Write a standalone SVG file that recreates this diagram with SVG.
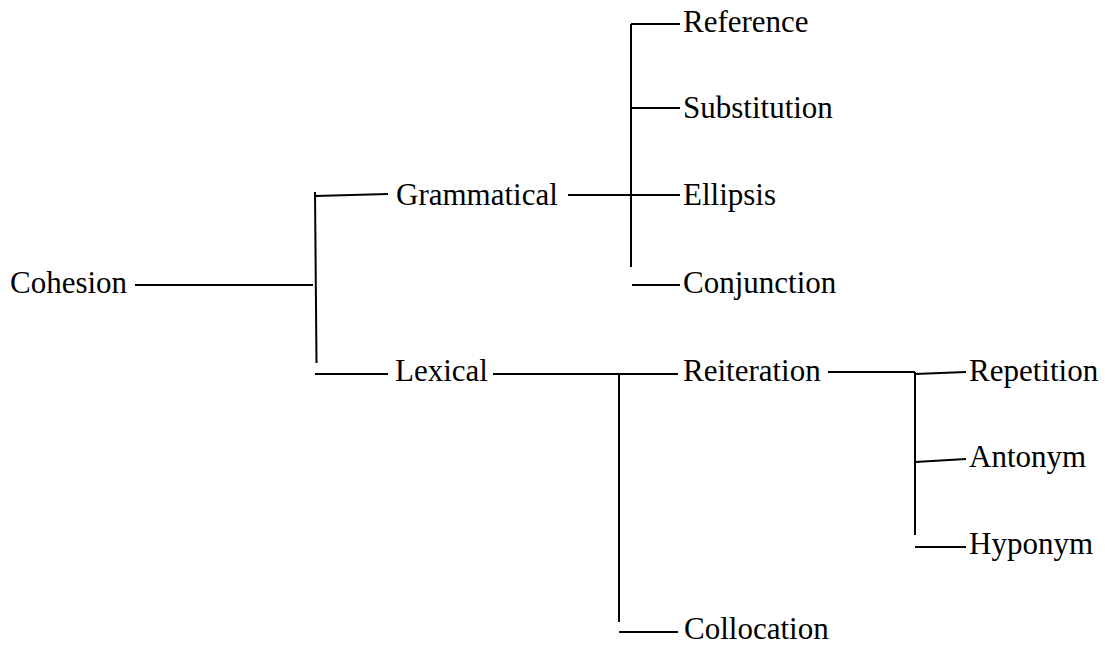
<svg xmlns="http://www.w3.org/2000/svg" width="1107" height="645" viewBox="0 0 1107 645">
<style>
.c line { stroke: #000; stroke-width: 2; stroke-linecap: butt; }
</style>
<rect width="1107" height="645" fill="#fff"/>
<g id="connectors" class="c">
<line x1="135" y1="285" x2="313" y2="285"/>
<line x1="315" y1="192" x2="316.5" y2="363"/>
<line x1="315" y1="196" x2="388" y2="194"/>
<line x1="315" y1="374" x2="388" y2="374"/>
<line x1="568" y1="195" x2="631" y2="195"/>
<line x1="631" y1="24" x2="631" y2="267"/>
<line x1="631" y1="24" x2="680" y2="24"/>
<line x1="631" y1="108" x2="680" y2="108"/>
<line x1="631" y1="195" x2="680" y2="195"/>
<line x1="632" y1="285" x2="680" y2="285"/>
<line x1="493" y1="374" x2="678" y2="374"/>
<line x1="619" y1="374" x2="619" y2="622"/>
<line x1="619" y1="632" x2="678" y2="632"/>
<line x1="828" y1="372" x2="915" y2="372"/>
<line x1="915" y1="372" x2="915" y2="535"/>
<line x1="915" y1="374" x2="966" y2="372"/>
<line x1="915" y1="462" x2="966" y2="459"/>
<line x1="915" y1="547" x2="966" y2="547"/>
</g>
<g id="nodes" font-family="Liberation Serif, serif" font-size="31" fill="#000">
<g id="n-cohesion"><text x="10" y="293">Cohesion</text></g>
<g id="n-grammatical"><text x="396" y="205">Grammatical</text></g>
<g id="n-lexical"><text x="395" y="381">Lexical</text></g>
<g id="n-reference"><text x="683" y="32">Reference</text></g>
<g id="n-substitution"><text x="683" y="118">Substitution</text></g>
<g id="n-ellipsis"><text x="683" y="205">Ellipsis</text></g>
<g id="n-conjunction"><text x="683" y="293">Conjunction</text></g>
<g id="n-reiteration"><text x="683" y="381">Reiteration</text></g>
<g id="n-collocation"><text x="684" y="639">Collocation</text></g>
<g id="n-repetition"><text x="969" y="381">Repetition</text></g>
<g id="n-antonym"><text x="969" y="467">Antonym</text></g>
<g id="n-hyponym"><text x="969" y="554">Hyponym</text></g>
</g>
</svg>
